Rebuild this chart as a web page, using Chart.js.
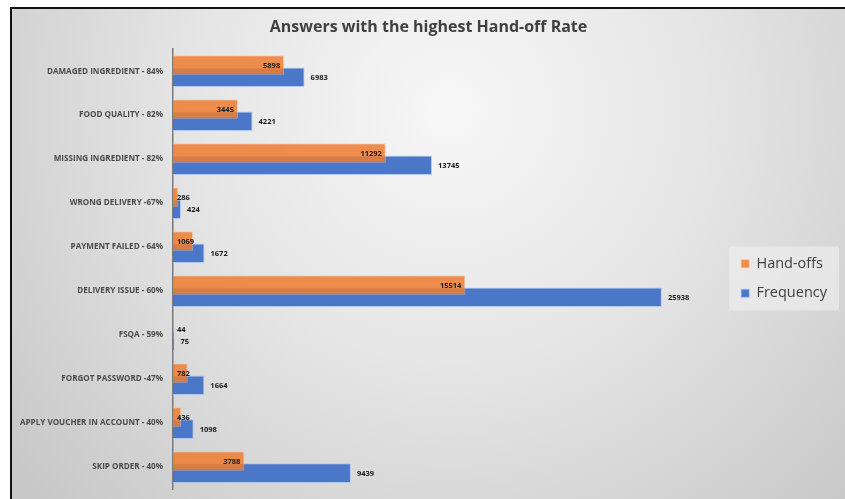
<!DOCTYPE html>
<html>
<head>
<meta charset="utf-8">
<script src="https://cdn.jsdelivr.net/npm/chart.js@4"></script>
<style>
  body { margin: 0; background: #fff; }
  canvas { display: block; }
</style>
</head>
<body>
<canvas id="chart" width="845" height="499"></canvas>
<script>
// Answer categories with their hand-off rate
const categories = [
  "DAMAGED INGREDIENT - 84%",
  "FOOD QUALITY - 82%",
  "MISSING INGREDIENT - 82%",
  "WRONG DELIVERY -67%",
  "PAYMENT FAILED - 64%",
  "DELIVERY ISSUE - 60%",
  "FSQA - 59%",
  "FORGOT PASSWORD -47%",
  "APPLY VOUCHER IN ACCOUNT - 40%",
  "SKIP ORDER - 40%",
];
const handOffs = [5898, 3445, 11292, 286, 1069, 15514, 44, 782, 436, 3788];
const frequency = [6983, 4221, 13745, 424, 1672, 25938, 75, 1664, 1098, 9439];

const textGrey = "#404040";

// grey radial background and the black frame
const backgroundPlugin = {
  id: "background",
  beforeDraw(chart) {
    const c = chart.ctx;
    const w = chart.width, h = chart.height;
    c.save();
    c.fillStyle = "#fff";
    c.fillRect(0, 0, w, h);
    const g = c.createRadialGradient(450, 110, 0, 450, 110, 560);
    g.addColorStop(0, "#f7f7f7");
    g.addColorStop(0.45, "#e6e6e6");
    g.addColorStop(1, "#c8c8c8");
    c.fillStyle = g;
    c.fillRect(11, 8, w - 11, h - 8);
    c.strokeStyle = "#111";
    c.lineWidth = 2;
    c.beginPath();
    c.moveTo(11, h);
    c.lineTo(11, 8);
    c.lineTo(w, 8);
    c.stroke();

    // light box behind the legend
    const boxes = chart.legend && chart.legend.legendHitBoxes;
    if (boxes && boxes.length) {
      let x0 = Infinity, y0 = Infinity, x1 = -Infinity, y1 = -Infinity;
      boxes.forEach((b) => {
        x0 = Math.min(x0, b.left); y0 = Math.min(y0, b.top);
        x1 = Math.max(x1, b.left + b.width); y1 = Math.max(y1, b.top + b.height);
      });
      c.fillStyle = "rgba(240,240,240,0.6)";
      c.fillRect(x0 - 12, y0 - 10, x1 - x0 + 24, y1 - y0 + 20);
    }
    c.restore();
  },
};

// value labels: hand-offs inside end, frequency outside end
const valueLabels = {
  id: "valueLabels",
  afterDatasetsDraw(chart) {
    const c = chart.ctx;
    const left = chart.chartArea.left;
    c.save();
    c.font = "bold 7.5px 'Open Sans'";
    c.fillStyle = "#1a1a1a";
    c.textBaseline = "middle";
    chart.data.datasets.forEach((ds, di) => {
      const meta = chart.getDatasetMeta(di);
      meta.data.forEach((bar, i) => {
        const txt = String(ds.data[i]);
        const tw = c.measureText(txt).width;
        if (di === 0) {
          const right = Math.max(bar.x - 4, left + 4 + tw);
          c.textAlign = "right";
          c.fillText(txt, right, bar.y + 1);
        } else {
          c.textAlign = "left";
          c.fillText(txt, bar.x + 6, bar.y + 1);
        }
      });
    });
    c.restore();
  },
};

const ctx = document.getElementById("chart").getContext("2d");
new Chart(ctx, {
  type: "bar",
  data: {
    labels: categories,
    datasets: [
      {
        label: "Hand-offs",
        data: handOffs,
        backgroundColor: "rgba(237,125,49,0.86)",
        borderColor: "rgba(255,190,140,0.6)",
        borderWidth: 1,
      },
      {
        label: "Frequency",
        data: frequency,
        backgroundColor: "#4a77c7",
        borderColor: "rgba(160,190,240,0.7)",
        borderWidth: 1,
      },
    ],
  },
  options: {
    indexAxis: "y",
    responsive: false,
    animation: false,
    categoryPercentage: 0.555,
    barPercentage: 1.6,
    layout: { padding: { top: 0, bottom: 10, left: 20, right: 8 } },
    scales: {
      x: {
        display: false,
        min: 0,
        max: 29350,
      },
      y: {
        afterFit(scale) {
          scale.width = 153;
          scale.paddingTop = 0;
          scale.paddingBottom = 0;
        },
        grid: { display: false, drawTicks: false },
        border: { display: true, color: "#7a7a7a", width: 1.5 },
        ticks: {
          padding: 10,
          color: "#4a4a4a",
          font: { family: "'Open Sans'", size: 8.1, weight: "bold" },
        },
      },
    },
    plugins: {
      title: {
        display: true,
        text: "Answers with the highest Hand-off Rate",
        color: textGrey,
        font: { family: "'Open Sans'", size: 16, weight: "bold", lineHeight: 1.2 },
        padding: { top: 18, bottom: 12 },
      },
      legend: {
        position: "right",
        title: { display: true, text: "", font: { size: 10, lineHeight: 1.2 }, padding: { top: 28, bottom: 28 } },
        labels: {
          boxWidth: 8,
          boxHeight: 8,
          padding: 15,
          color: textGrey,
          font: { family: "'Open Sans'", size: 14.5 },
        },
      },
      tooltip: { enabled: false },
    },
  },
  plugins: [backgroundPlugin, valueLabels],
});
</script>
</body>
</html>
